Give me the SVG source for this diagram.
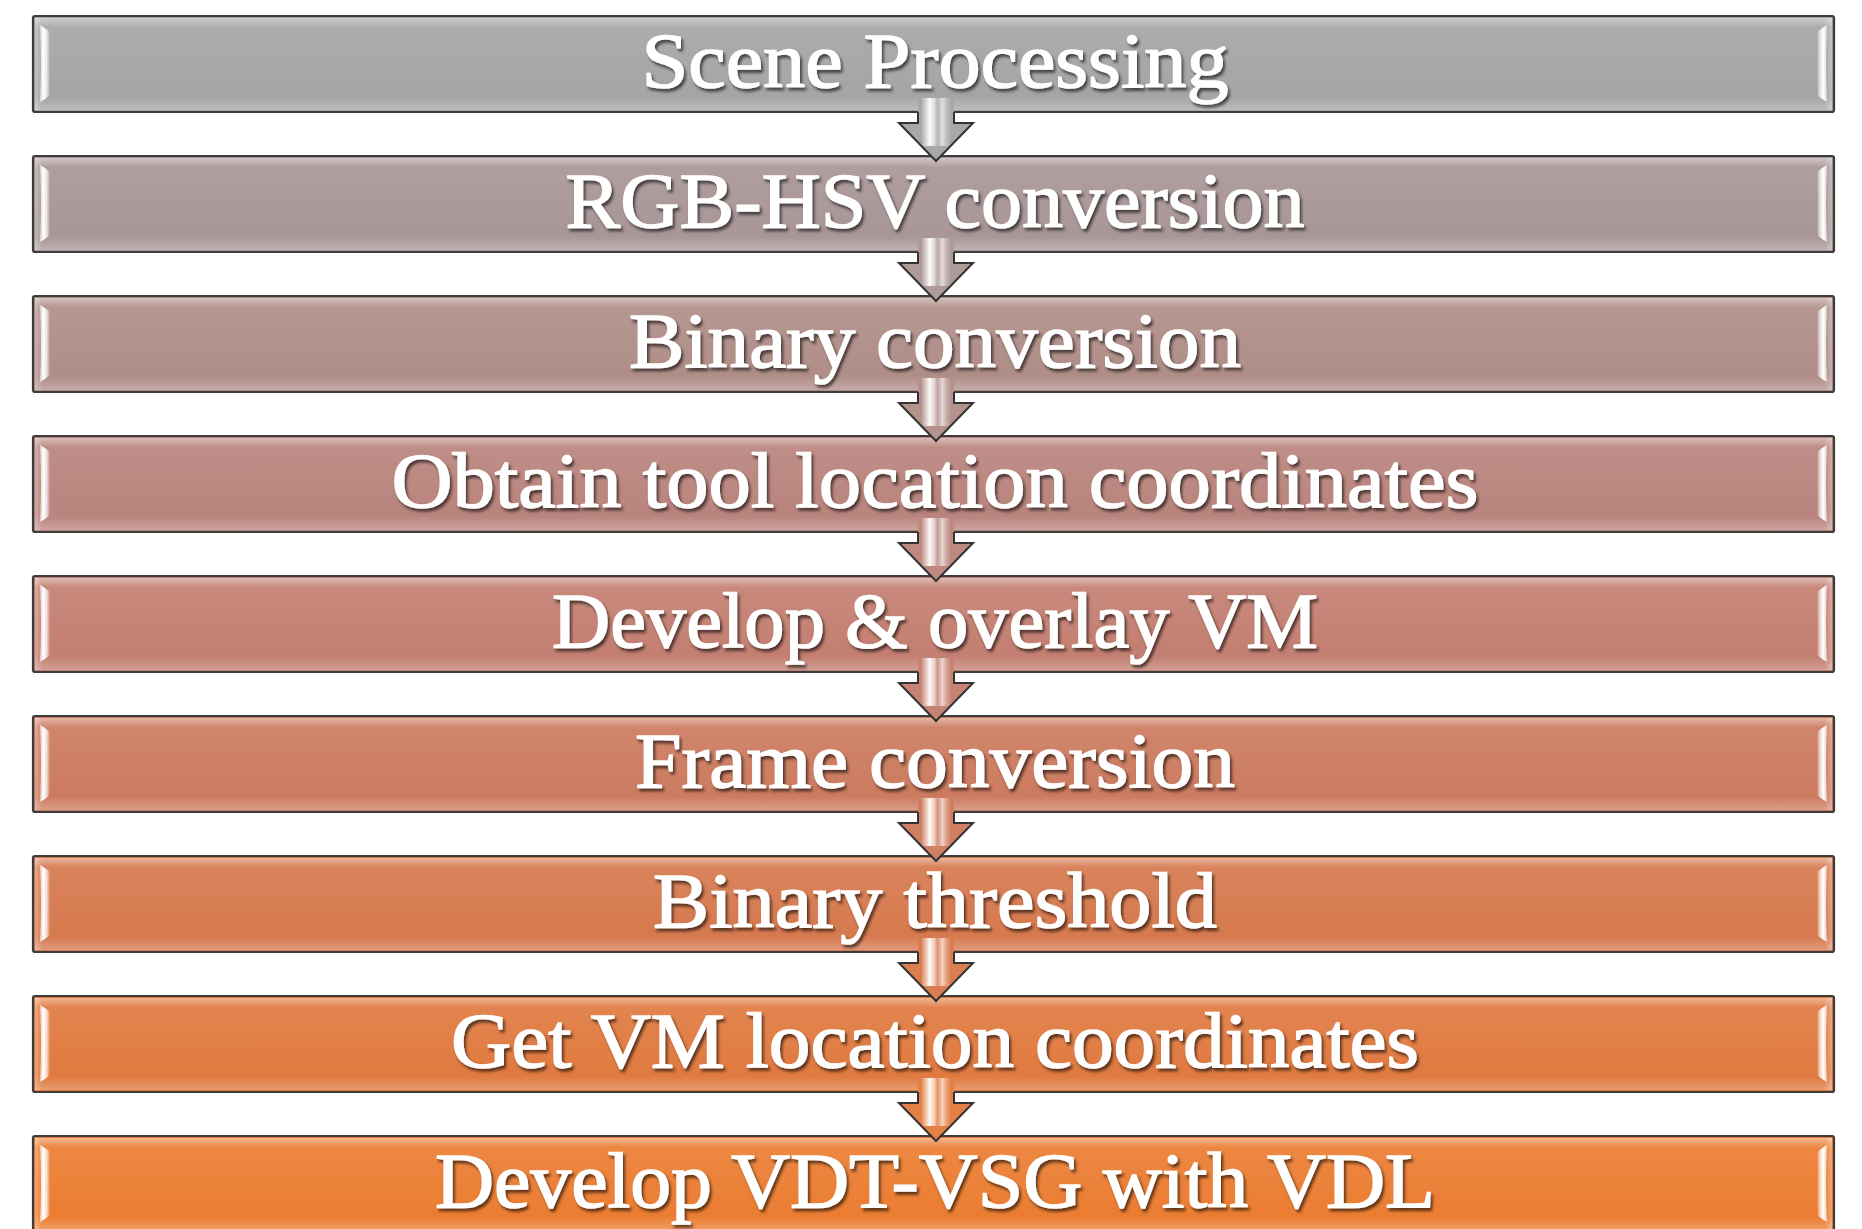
<svg xmlns="http://www.w3.org/2000/svg" xmlns:xlink="http://www.w3.org/1999/xlink" width="1862" height="1229" viewBox="0 0 1862 1229">
  <style>
    .box { stroke: #3c3c3c; stroke-width: 2.2; }
    .bevel { fill: url(#bevelV); }
    .bevelH { fill: url(#bevelH); }
    .lbl { font-family: "Liberation Serif", "Times New Roman", serif; font-size: 79px; fill: #ffffff; stroke: #ffffff; stroke-width: 1.4; text-anchor: middle; filter: url(#txtShadow); }
    .aout { fill: none; stroke: #333333; stroke-width: 2; stroke-linejoin: miter; }
  </style>
  <defs>
    <linearGradient id="bevelV" x1="0" y1="0" x2="0" y2="1">
      <stop offset="0" stop-color="#ffffff" stop-opacity="0.45"/>
      <stop offset="0.1" stop-color="#ffffff" stop-opacity="0.08"/>
      <stop offset="0.85" stop-color="#ffffff" stop-opacity="0"/>
      <stop offset="1" stop-color="#ffffff" stop-opacity="0.25"/>
    </linearGradient>
    <linearGradient id="bevelH" x1="0" y1="0" x2="1" y2="0">
      <stop offset="0" stop-color="#ffffff" stop-opacity="0.3"/>
      <stop offset="0.004" stop-color="#ffffff" stop-opacity="0"/>
      <stop offset="0.996" stop-color="#ffffff" stop-opacity="0"/>
      <stop offset="1" stop-color="#ffffff" stop-opacity="0.3"/>
    </linearGradient>
    <linearGradient id="hlGrad" x1="0" y1="0" x2="1" y2="0">
      <stop offset="0" stop-color="#ffffff" stop-opacity="0.55"/>
      <stop offset="0.35" stop-color="#ffffff" stop-opacity="1"/>
      <stop offset="0.7" stop-color="#ffffff" stop-opacity="0.7"/>
      <stop offset="1" stop-color="#ffffff" stop-opacity="0"/>
    </linearGradient>
    <linearGradient id="shaftHL" gradientUnits="userSpaceOnUse" x1="920" y1="0" x2="952" y2="0">
      <stop offset="0" stop-color="#ffffff" stop-opacity="0"/>
      <stop offset="0.15" stop-color="#ffffff" stop-opacity="0.4"/>
      <stop offset="0.3" stop-color="#ffffff" stop-opacity="0.95"/>
      <stop offset="0.45" stop-color="#ffffff" stop-opacity="0.6"/>
      <stop offset="0.55" stop-color="#ffffff" stop-opacity="0.15"/>
      <stop offset="0.7" stop-color="#ffffff" stop-opacity="0.65"/>
      <stop offset="0.85" stop-color="#ffffff" stop-opacity="0.2"/>
      <stop offset="1" stop-color="#ffffff" stop-opacity="0"/>
    </linearGradient>
    <filter id="txtShadow" x="-5%" y="-20%" width="110%" height="150%">
      <feDropShadow dx="2" dy="3" stdDeviation="1.8" flood-color="#000000" flood-opacity="0.6"/>
    </filter>
    <path id="hlL" d="M40,9 Q44,11 50,16 L50,79 Q44,84 40,86 Q42,48 40,9 Z"/>
    <path id="arrowShape" d="M918,98 L954,98 L954,123 L973,123 L936,161 L899,123 L918,123 Z"/>
    <path id="arrowLine" d="M918,112 L918,123 L899,123 L936,161 L973,123 L954,123 L954,112"/>
    <g id="boxDeco">
      <rect x="35" y="2" width="1797" height="92" class="bevel"/>
      <rect x="35" y="2" width="1797" height="92" class="bevelH"/>
      <use xlink:href="#hlL" fill="url(#hlGrad)"/>
      <use xlink:href="#hlL" fill="url(#hlGrad)" transform="translate(1867,0) scale(-1,1)"/>
    </g>
  </defs>

  <rect width="1862" height="1229" fill="#ffffff"/>

  <g id="nodes">
    <g id="node1">
      <rect class="box" x="33" y="16" width="1801" height="96" rx="2" fill="#a5a5a5"/>
      <use xlink:href="#boxDeco" transform="translate(0,16)"/>
      <text class="lbl" x="935" y="87" textLength="587" lengthAdjust="spacingAndGlyphs">Scene Processing</text>
    </g>
    <g id="node2">
      <rect class="box" x="33" y="156" width="1801" height="96" rx="2" fill="#a99696"/>
      <use xlink:href="#boxDeco" transform="translate(0,156)"/>
      <text class="lbl" x="935" y="227" textLength="739" lengthAdjust="spacingAndGlyphs">RGB-HSV conversion</text>
    </g>
    <g id="node3">
      <rect class="box" x="33" y="296" width="1801" height="96" rx="2" fill="#b08e88"/>
      <use xlink:href="#boxDeco" transform="translate(0,296)"/>
      <text class="lbl" x="935" y="367" textLength="612" lengthAdjust="spacingAndGlyphs">Binary conversion</text>
    </g>
    <g id="node4">
      <rect class="box" x="33" y="436" width="1801" height="96" rx="2" fill="#b9847d"/>
      <use xlink:href="#boxDeco" transform="translate(0,436)"/>
      <text class="lbl" x="935" y="507" textLength="1087" lengthAdjust="spacingAndGlyphs">Obtain tool location coordinates</text>
    </g>
    <g id="node5">
      <rect class="box" x="33" y="576" width="1801" height="96" rx="2" fill="#c37f71"/>
      <use xlink:href="#boxDeco" transform="translate(0,576)"/>
      <text class="lbl" x="935" y="647" textLength="766" lengthAdjust="spacingAndGlyphs">Develop &amp; overlay VM</text>
    </g>
    <g id="node6">
      <rect class="box" x="33" y="716" width="1801" height="96" rx="2" fill="#cc7b5f"/>
      <use xlink:href="#boxDeco" transform="translate(0,716)"/>
      <text class="lbl" x="935" y="787" textLength="600" lengthAdjust="spacingAndGlyphs">Frame conversion</text>
    </g>
    <g id="node7">
      <rect class="box" x="33" y="856" width="1801" height="96" rx="2" fill="#d6794e"/>
      <use xlink:href="#boxDeco" transform="translate(0,856)"/>
      <text class="lbl" x="935" y="927" textLength="564" lengthAdjust="spacingAndGlyphs">Binary threshold</text>
    </g>
    <g id="node8">
      <rect class="box" x="33" y="996" width="1801" height="96" rx="2" fill="#e07a40"/>
      <use xlink:href="#boxDeco" transform="translate(0,996)"/>
      <text class="lbl" x="935" y="1067" textLength="968" lengthAdjust="spacingAndGlyphs">Get VM location coordinates</text>
    </g>
    <g id="node9">
      <rect class="box" x="33" y="1136" width="1801" height="96" rx="2" fill="#eb7d32"/>
      <use xlink:href="#boxDeco" transform="translate(0,1136)"/>
      <text class="lbl" x="935" y="1207" textLength="1000" lengthAdjust="spacingAndGlyphs">Develop VDT-VSG with VDL</text>
    </g>
  </g>

  <g id="connectors">
    <g transform="translate(0,0)"><use xlink:href="#arrowShape" fill="#a8a8a8"/><rect x="922" y="98" width="28" height="48" fill="url(#shaftHL)"/><use xlink:href="#arrowLine" class="aout"/></g>
    <g transform="translate(0,140)"><use xlink:href="#arrowShape" fill="#ad9a99"/><rect x="922" y="98" width="28" height="48" fill="url(#shaftHL)"/><use xlink:href="#arrowLine" class="aout"/></g>
    <g transform="translate(0,280)"><use xlink:href="#arrowShape" fill="#b4928d"/><rect x="922" y="98" width="28" height="48" fill="url(#shaftHL)"/><use xlink:href="#arrowLine" class="aout"/></g>
    <g transform="translate(0,420)"><use xlink:href="#arrowShape" fill="#be8981"/><rect x="922" y="98" width="28" height="48" fill="url(#shaftHL)"/><use xlink:href="#arrowLine" class="aout"/></g>
    <g transform="translate(0,560)"><use xlink:href="#arrowShape" fill="#c78474"/><rect x="922" y="98" width="28" height="48" fill="url(#shaftHL)"/><use xlink:href="#arrowLine" class="aout"/></g>
    <g transform="translate(0,700)"><use xlink:href="#arrowShape" fill="#d08062"/><rect x="922" y="98" width="28" height="48" fill="url(#shaftHL)"/><use xlink:href="#arrowLine" class="aout"/></g>
    <g transform="translate(0,840)"><use xlink:href="#arrowShape" fill="#da7e52"/><rect x="922" y="98" width="28" height="48" fill="url(#shaftHL)"/><use xlink:href="#arrowLine" class="aout"/></g>
    <g transform="translate(0,980)"><use xlink:href="#arrowShape" fill="#e48046"/><rect x="922" y="98" width="28" height="48" fill="url(#shaftHL)"/><use xlink:href="#arrowLine" class="aout"/></g>
  </g>
</svg>
